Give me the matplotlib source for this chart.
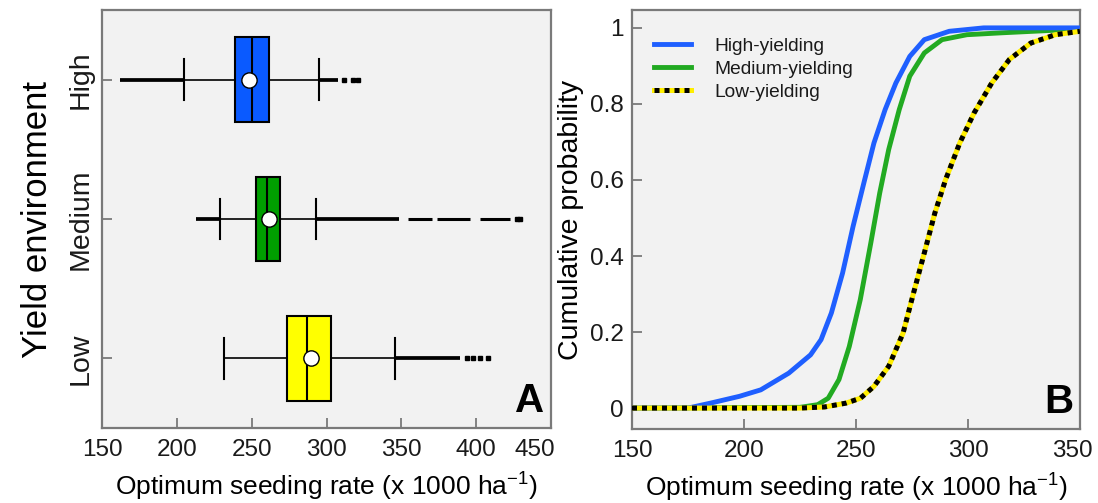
import matplotlib
matplotlib.use("Agg")
import matplotlib.pyplot as plt
import matplotlib.transforms as mtransforms
from matplotlib.legend_handler import HandlerTuple

plt.rcParams['font.family'] = ['Liberation Sans', 'DejaVu Sans']

# ---------------- Panel A data (box summaries, x 1000 ha^-1) ----------------
environments = ["Low", "Medium", "High"]
box_q1 = [273.8, 252.7, 238.8]
box_median = [287.1, 260.0, 250.4]
box_q3 = [303.2, 268.9, 261.4]
box_mean = [289.4, 261.8, 248.4]
whisker_low = [231.7, 228.8, 205.0]
whisker_high = [345.9, 292.7, 294.7]
box_colors = ["#FFFF00", "#009E00", "#0A5AFF"]

# dense runs of outliers (start, end) and isolated outliers
outlier_runs = [
    [(345.9, 389.0)],
    [(212.6, 228.8), (292.7, 348.4), (354.6, 370.2), (373.5, 395.8), (402.5, 422.5)],
    [(162.0, 205.0), (294.7, 308.0)],
]
outlier_points = [
    [393.6, 398.0, 402.5, 408.0],
    [427.0, 429.6],
    [312.0, 317.7, 321.0],
]

xticks_a = [150, 200, 250, 300, 350, 400, 450]

# ---------------- Panel B data (cumulative probability) ----------------
high_x = [150, 175, 185, 198, 207.5, 220, 229.7, 234.4, 239, 244, 248.7, 253.5, 258,
          263, 267.8, 274, 280.5, 291.6, 307, 350]
high_y = [0.0, 0.0, 0.013, 0.031, 0.048, 0.092, 0.14, 0.18, 0.25, 0.355, 0.478, 0.592,
          0.697, 0.785, 0.855, 0.925, 0.969, 0.991, 1.0, 1.0]
med_x = [150, 225, 232.9, 237.6, 242.4, 247, 251.9, 256.6, 260.6, 264.6, 269.3, 274,
         280.5, 288.4, 299.5, 315, 350]
med_y = [0.0, 0.002, 0.009, 0.026, 0.075, 0.162, 0.285, 0.434, 0.566, 0.68, 0.785,
         0.873, 0.934, 0.969, 0.982, 0.987, 0.997]
low_x = [150, 225, 236, 245.5, 252, 258, 264.6, 271, 275.7, 280.5, 285.2, 290, 296.3,
         302.7, 310.6, 318.5, 328, 339, 350]
low_y = [0.0, 0.0, 0.003, 0.013, 0.026, 0.057, 0.11, 0.197, 0.303, 0.408, 0.513, 0.601,
         0.697, 0.776, 0.855, 0.917, 0.96, 0.982, 0.991]
xticks_b = [150, 200, 250, 300, 350]
yticks_b = [0, 0.2, 0.4, 0.6, 0.8, 1]
ytick_labels_b = ["0", "0.2", "0.4", "0.6", "0.8", "1"]

# ---------------- Figure ----------------
W, H = 1098, 503
fig = plt.figure(figsize=(W / 100, H / 100), dpi=100)
axA = fig.add_axes([102 / W, 1 - 428 / H, 449 / W, 418 / H])
axB = fig.add_axes([632 / W, 1 - 429 / H, 448 / W, 419 / H])

face = "#F2F2F2"
frame_col = "#7A7A7A"
for ax in (axA, axB):
    ax.set_facecolor(face)
    for s in ax.spines.values():
        s.set_color(frame_col)
        s.set_linewidth(1.6)
    ax.tick_params(direction="in", length=7, width=1.3, color=frame_col,
                   labelsize=17.5, labelcolor="#1a1a1a")

# ---- Panel A ----
stats = []
for i in range(3):
    stats.append(dict(med=box_median[i], q1=box_q1[i], q3=box_q3[i],
                      whislo=whisker_low[i], whishi=whisker_high[i],
                      mean=box_mean[i], fliers=[]))
positions = [1, 2, 3]
bp = axA.bxp(stats, positions=positions, vert=False, widths=0.61, capwidths=0.29,
             showmeans=True, patch_artist=True, showfliers=False,
             boxprops=dict(edgecolor="black", linewidth=1.5),
             medianprops=dict(color="black", linewidth=1.5),
             whiskerprops=dict(color="black", linewidth=1.2),
             capprops=dict(color="black", linewidth=1.5),
             meanprops=dict(marker="o", markerfacecolor="white", markeredgecolor="black",
                            markersize=11, markeredgewidth=1.0))
for patch, c in zip(bp["boxes"], box_colors):
    patch.set_facecolor(c)

for i, pos in enumerate(positions):
    for j, (a, b) in enumerate(outlier_runs[i]):
        axA.hlines(pos, a, b, color="black", linewidth=2.7 if j < 2 else 2.2, zorder=1.5)
    axA.plot(outlier_points[i], [pos] * len(outlier_points[i]), linestyle="none",
             marker="s", markersize=2.6, color="black")

axA.set_xlim(150, 450)
axA.set_ylim(0.5, 3.5)
axA.set_xticks(xticks_a)
axA.set_yticks(positions)
axA.set_yticklabels(environments, rotation=90, va="center", fontsize=20.5)
axA.tick_params(axis="y", pad=6)
axA.tick_params(axis="x", pad=8)
# the last label sits slightly left of its tick, as in the original
lab = axA.get_xticklabels()[-1]
lab.set_transform(lab.get_transform() + mtransforms.ScaledTranslation(-16 / 100, 0, fig.dpi_scale_trans))
axA.set_xlabel("Optimum seeding rate (x 1000 ha$^{\\mathregular{-1}}$)", fontsize=19, labelpad=6)
axA.set_ylabel("Yield environment", fontsize=25, labelpad=10)
axA.text(0.985, 0.02, "A", transform=axA.transAxes, ha="right", va="bottom",
         fontsize=29, fontweight="bold")

# ---- Panel B ----
lh, = axB.plot(high_x, high_y, color="#1F5FFF", linewidth=3.5, zorder=3)
lm, = axB.plot(med_x, med_y, color="#22AA22", linewidth=3.5, zorder=2)
ly1, = axB.plot(low_x, low_y, color="#FFEE00", linewidth=3.6, zorder=4)
ly2, = axB.plot(low_x, low_y, color="black", linewidth=3.6, zorder=5,
                linestyle=(0, (1.0, 1.0)))
axB.set_xlim(150, 350)
axB.set_ylim(-0.055, 1.047)
axB.set_xticks(xticks_b)
axB.set_yticks(yticks_b)
axB.set_yticklabels(ytick_labels_b)
axB.tick_params(axis="x", pad=8)
axB.tick_params(axis="y", pad=6)
labB = axB.get_xticklabels()[-1]
labB.set_transform(labB.get_transform() + mtransforms.ScaledTranslation(-8 / 100, 0, fig.dpi_scale_trans))
axB.set_xlabel("Optimum seeding rate (x 1000 ha$^{\\mathregular{-1}}$)", fontsize=19, labelpad=6)
axB.set_ylabel("Cumulative probability", fontsize=20.5, labelpad=4)
axB.text(0.985, 0.02, "B", transform=axB.transAxes, ha="right", va="bottom",
         fontsize=29, fontweight="bold")
leg = axB.legend([lh, lm, (ly1, ly2)], ["High-yielding", "Medium-yielding", "Low-yielding"],
                 handler_map={tuple: HandlerTuple(ndivide=1, pad=0)},
                 loc="upper left", bbox_to_anchor=(0.05, 0.935), frameon=False,
                 fontsize=13.8, handlelength=1.9, handletextpad=1.25, labelspacing=0.3,
                 borderpad=0, borderaxespad=0)
for t in leg.get_texts():
    t.set_color("#1a1a1a")

fig.savefig("out.png", dpi=100, facecolor="white")
